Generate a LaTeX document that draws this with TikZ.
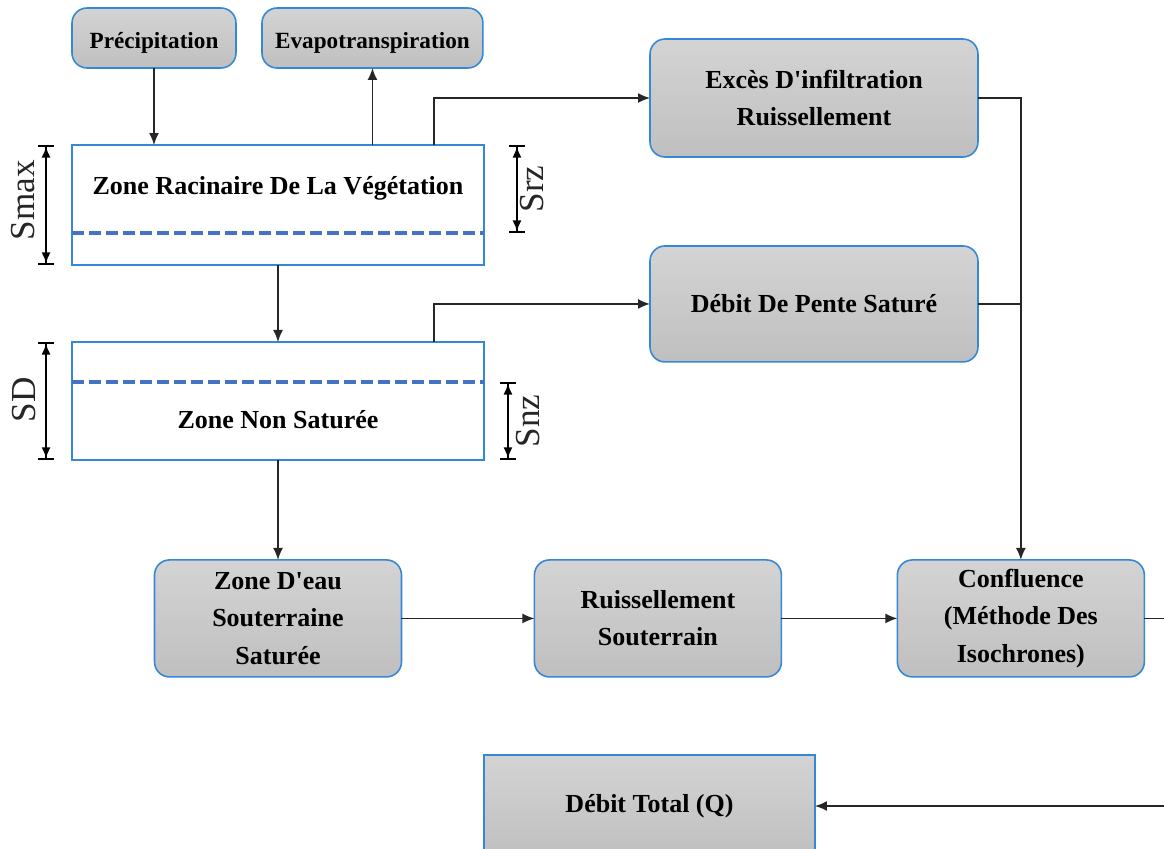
\documentclass[tikz,border=0pt]{standalone}
\usepackage{fontspec}
\setmainfont{Liberation Serif}
\usetikzlibrary{arrows.meta, positioning}
\definecolor{boxblue}{RGB}{52,136,214}
\definecolor{dashblue}{RGB}{68,114,196}

\begin{document}
\begin{tikzpicture}[x=0.02cm, y=-0.02cm, >={Latex[length=2.4mm,width=2mm]}, node distance=0pt,
    graybox/.style={draw=boxblue, line width=0.9pt, rounded corners=3mm, top color=gray!34, bottom color=gray!50, align=center, inner sep=0pt, outer sep=0pt, font=\bfseries\fontsize{14.8}{21.2}\selectfont},
    topbox/.style={graybox, minimum height=1.2cm, text height=11.8pt, text depth=0pt, font=\bfseries\fontsize{13.2}{16}\selectfont},
    zonebox/.style={draw=boxblue, fill=white, line width=0.9pt, inner sep=0pt, outer sep=0pt, minimum width=8.24cm},
    zonetext/.style={font=\bfseries\fontsize{14.8}{18}\selectfont},
    flow/.style={->, line width=0.9pt, black!85},
    waterline/.style={dashblue, line width=0.09cm, dash pattern=on 0.24cm off 0.1cm},
    dimarrow/.style={line width=0.9pt, {Bar[width=3.2mm]Latex[length=2.2mm,width=1.8mm]}-{Latex[length=2.2mm,width=1.8mm]Bar[width=3.2mm]}},
    dimlabel/.style={rotate=90, black!85, font=\fontsize{20}{22}\selectfont}]

    \useasboundingbox (0,0) rectangle (1164,849);
    \clip (0,0) rectangle (1164,849);

    \node[topbox, minimum width=3.28cm] (prec) at (154,38) {Précipitation};
    \node[topbox, minimum width=4.42cm] (evap) [right=0.52cm of prec] {Evapotranspiration};

    \node[zonebox, minimum height=2.4cm] (racine) at (278,205) {};
    \node[zonetext] (racinetxt) at (278,188) {Zone Racinaire De La Végétation};
    \node[zonebox, minimum height=2.36cm] (nonsat) [below=1.54cm of racine] {};
    \node[zonetext] (nonsattxt) at (278,420) {Zone Non Saturée};

    \node[graybox, minimum width=6.56cm, minimum height=2.36cm] (exces) at (814,98) {Excès D\textquotesingle infiltration\\Ruissellement};
    \node[graybox, minimum width=6.56cm, minimum height=2.32cm] (pente) [below=1.78cm of exces] {Débit De Pente Saturé};

    \node[graybox, minimum width=4.94cm, minimum height=2.34cm] (nappe) [below=2cm of nonsat] {Zone D\textquotesingle eau\\Souterraine\\Saturée};
    \node[graybox, minimum width=4.94cm, minimum height=2.34cm] (souter) [right=2.66cm of nappe] {Ruissellement\\Souterrain};
    \node[graybox, minimum width=4.94cm, minimum height=2.34cm] (conflu) [right=2.32cm of souter] {Confluence\\(Méthode Des\\Isochrones)};
    \node[graybox, rounded corners=0pt, minimum width=6.62cm, minimum height=2.04cm] (total) at (649.5,806) {Débit Total (Q)};

    \draw[waterline] ([yshift=0.64cm]racine.south west) -- ([yshift=0.64cm]racine.south east);
    \draw[waterline] ([yshift=-0.8cm]nonsat.north west) -- ([yshift=-0.8cm]nonsat.north east);

    \draw[dimarrow] ([xshift=-0.52cm]racine.north west) -- ([xshift=-0.52cm]racine.south west);
    \draw[dimarrow] ([xshift=0.66cm]racine.north east) -- ([xshift=0.66cm,yshift=0.64cm]racine.south east);
    \draw[dimarrow] ([xshift=-0.52cm]nonsat.north west) -- ([xshift=-0.52cm]nonsat.south west);
    \draw[dimarrow] ([xshift=0.48cm,yshift=-0.8cm]nonsat.north east) -- ([xshift=0.48cm]nonsat.south east);
    \node[dimlabel] (smax) at (23.5,200) {Smax};
    \node[dimlabel] (srz) at (532,189) {Srz};
    \node[dimlabel] (sd) at (24,400) {SD};
    \node[dimlabel] (snz) at (528,421) {Snz};

    \draw[flow] (prec.south) -- (prec.south |- racine.north);
    \draw[flow] (evap.south |- racine.north) -- (evap.south);
    \draw[flow] ([xshift=-1cm]racine.north east) |- (exces.west);
    \draw[flow] (racine.south) -- (nonsat.north);
    \draw[flow] ([xshift=-1cm]nonsat.north east) |- (pente.west);
    \draw[flow] (nonsat.south) -- (nappe.north);
    \draw[flow] (exces.east) -| (conflu.north);
    \draw[flow, -] (pente.east) -- (pente.east -| conflu.north);
    \draw[flow] (nappe) -- (souter);
    \draw[flow] (souter) -- (conflu);
    \draw[flow] (conflu.east) -- ++(1cm,0) |- (total.east);

\end{tikzpicture}
\end{document}
